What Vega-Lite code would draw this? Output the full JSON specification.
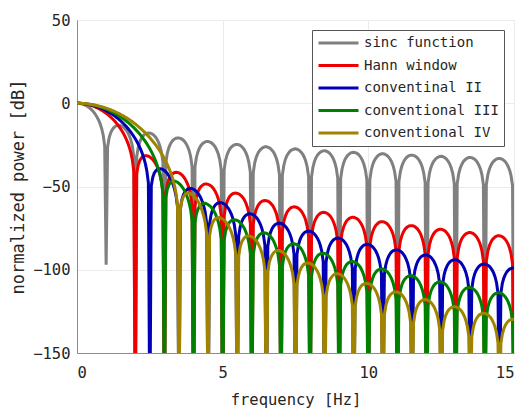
{
"$schema":"https://vega.github.io/schema/vega-lite/v6.json",
"width":437,"height":333,
"autosize":{"type":"none"},
"padding":{"left":77,"top":20,"right":9,"bottom":55},
"background":"white",
"config":{
"view":{"stroke":"#e6e6e6","strokeWidth":1},
"font":"DejaVu Sans Mono",
"axis":{"labelFont":"DejaVu Sans Mono","titleFont":"DejaVu Sans Mono","labelFontSize":15.5,"titleFontSize":15.5,"titleFontWeight":"normal","labelColor":"#262626","titleColor":"#262626","domainColor":"#8c8c8c","gridColor":"#ebebeb","ticks":false,"tickSize":0,"grid":true}
},
"data":{"values":[
{"f":0,"a":0,"b":0,"c":0,"d":0,"e":0},
{"f":0.05,"a":-0.04,"b":-0.01,"c":-0.01,"d":-0.01,"e":-0.01},
{"f":0.1,"a":-0.14,"b":-0.06,"c":-0.04,"d":-0.03,"e":-0.03},
{"f":0.15,"a":-0.32,"b":-0.13,"c":-0.1,"d":-0.08,"e":-0.07},
{"f":0.2,"a":-0.58,"b":-0.23,"c":-0.17,"d":-0.14,"e":-0.12},
{"f":0.25,"a":-0.91,"b":-0.35,"c":-0.27,"d":-0.22,"e":-0.18},
{"f":0.3,"a":-1.33,"b":-0.51,"c":-0.39,"d":-0.31,"e":-0.26},
{"f":0.35,"a":-1.83,"b":-0.69,"c":-0.52,"d":-0.42,"e":-0.35},
{"f":0.4,"a":-2.42,"b":-0.91,"c":-0.69,"d":-0.55,"e":-0.46},
{"f":0.45,"a":-3.12,"b":-1.15,"c":-0.87,"d":-0.7,"e":-0.58},
{"f":0.5,"a":-3.92,"b":-1.42,"c":-1.08,"d":-0.86,"e":-0.72},
{"f":0.55,"a":-4.86,"b":-1.73,"c":-1.3,"d":-1.05,"e":-0.87},
{"f":0.6,"a":-5.94,"b":-2.07,"c":-1.56,"d":-1.25,"e":-1.04},
{"f":0.65,"a":-7.2,"b":-2.43,"c":-1.83,"d":-1.47,"e":-1.22},
{"f":0.7,"a":-8.69,"b":-2.84,"c":-2.13,"d":-1.7,"e":-1.42},
{"f":0.75,"a":-10.46,"b":-3.28,"c":-2.45,"d":-1.96,"e":-1.63},
{"f":0.8,"a":-12.62,"b":-3.75,"c":-2.8,"d":-2.23,"e":-1.86},
{"f":0.85,"a":-15.39,"b":-4.26,"c":-3.17,"d":-2.53,"e":-2.1},
{"f":0.9,"a":-19.23,"b":-4.8,"c":-3.57,"d":-2.84,"e":-2.36},
{"f":0.95,"a":-25.61,"b":-5.39,"c":-3.99,"d":-3.17,"e":-2.63},
{"f":1,"a":-97,"b":-6.02,"c":-4.44,"d":-3.52,"e":-2.92},
{"f":1.05,"a":-26.48,"b":-6.7,"c":-4.92,"d":-3.89,"e":-3.23},
{"f":1.1,"a":-20.97,"b":-7.42,"c":-5.42,"d":-4.29,"e":-3.55},
{"f":1.15,"a":-18.02,"b":-8.19,"c":-5.96,"d":-4.7,"e":-3.89},
{"f":1.2,"a":-16.15,"b":-9.01,"c":-6.52,"d":-5.14,"e":-4.24},
{"f":1.25,"a":-14.89,"b":-9.89,"c":-7.12,"d":-5.59,"e":-4.62},
{"f":1.3,"a":-14.06,"b":-10.84,"c":-7.74,"d":-6.07,"e":-5.01},
{"f":1.35,"a":-13.55,"b":-11.86,"c":-8.41,"d":-6.57,"e":-5.41},
{"f":1.4,"a":-13.31,"b":-12.95,"c":-9.11,"d":-7.1,"e":-5.84},
{"f":1.45,"a":-13.28,"b":-14.13,"c":-9.84,"d":-7.65,"e":-6.28},
{"f":1.5,"a":-13.47,"b":-15.4,"c":-10.62,"d":-8.22,"e":-6.74},
{"f":1.55,"a":-13.86,"b":-16.8,"c":-11.44,"d":-8.82,"e":-7.22},
{"f":1.6,"a":-14.47,"b":-18.32,"c":-12.3,"d":-9.45,"e":-7.72},
{"f":1.65,"a":-15.29,"b":-20.02,"c":-13.21,"d":-10.1,"e":-8.24},
{"f":1.7,"a":-16.39,"b":-21.92,"c":-14.17,"d":-10.79,"e":-8.78},
{"f":1.75,"a":-17.81,"b":-24.1,"c":-15.19,"d":-11.5,"e":-9.34},
{"f":1.8,"a":-19.67,"b":-26.67,"c":-16.27,"d":-12.24,"e":-9.92},
{"f":1.85,"a":-22.15,"b":-29.83,"c":-17.41,"d":-13.02,"e":-10.52},
{"f":1.9,"a":-25.72,"b":-34.05,"c":-18.63,"d":-13.83,"e":-11.15},
{"f":1.95,"a":-31.85,"b":-40.81,"c":-19.94,"d":-14.68,"e":-11.79},
{"f":2,"a":-200,"b":-200,"c":-21.34,"d":-15.56,"e":-12.46},
{"f":2.05,"a":-32.29,"b":-42.4,"c":-22.86,"d":-16.49,"e":-13.16},
{"f":2.1,"a":-26.59,"b":-37.24,"c":-24.5,"d":-17.46,"e":-13.88},
{"f":2.15,"a":-23.45,"b":-34.63,"c":-26.32,"d":-18.48,"e":-14.63},
{"f":2.2,"a":-21.41,"b":-33.1,"c":-28.34,"d":-19.54,"e":-15.41},
{"f":2.25,"a":-20,"b":-32.17,"c":-30.64,"d":-20.66,"e":-16.21},
{"f":2.3,"a":-19.02,"b":-31.67,"c":-33.32,"d":-21.84,"e":-17.05},
{"f":2.35,"a":-18.36,"b":-31.47,"c":-36.59,"d":-23.08,"e":-17.91},
{"f":2.4,"a":-17.99,"b":-31.54,"c":-40.93,"d":-24.41,"e":-18.81},
{"f":2.45,"a":-17.84,"b":-31.82,"c":-47.8,"d":-25.81,"e":-19.75},
{"f":2.5,"a":-17.9,"b":-32.31,"c":-200,"d":-27.31,"e":-20.72},
{"f":2.55,"a":-18.18,"b":-33,"c":-49.6,"d":-28.92,"e":-21.73},
{"f":2.6,"a":-18.68,"b":-33.89,"c":-44.55,"d":-30.67,"e":-22.79},
{"f":2.65,"a":-19.41,"b":-35,"c":-42.05,"d":-32.57,"e":-23.89},
{"f":2.7,"a":-20.41,"b":-36.38,"c":-40.62,"d":-34.69,"e":-25.04},
{"f":2.75,"a":-21.74,"b":-38.08,"c":-39.8,"d":-37.08,"e":-26.24},
{"f":2.8,"a":-23.51,"b":-40.21,"c":-39.39,"d":-39.85,"e":-27.5},
{"f":2.85,"a":-25.9,"b":-42.95,"c":-39.3,"d":-43.21,"e":-28.83},
{"f":2.9,"a":-29.39,"b":-46.79,"c":-39.46,"d":-47.64,"e":-30.24},
{"f":2.95,"a":-35.45,"b":-53.18,"c":-39.84,"d":-54.59,"e":-31.72},
{"f":3,"a":-200,"b":-200,"c":-40.42,"d":-200,"e":-33.29},
{"f":3.05,"a":-35.74,"b":-54.12,"c":-41.21,"d":-56.57,"e":-34.99},
{"f":3.1,"a":-29.97,"b":-48.67,"c":-42.2,"d":-51.61,"e":-36.81},
{"f":3.15,"a":-26.77,"b":-45.78,"c":-43.41,"d":-49.19,"e":-38.79},
{"f":3.2,"a":-24.67,"b":-43.98,"c":-44.88,"d":-47.84,"e":-40.98},
{"f":3.25,"a":-23.19,"b":-42.8,"c":-46.67,"d":-47.1,"e":-43.45},
{"f":3.3,"a":-22.15,"b":-42.06,"c":-48.89,"d":-46.78,"e":-46.3},
{"f":3.35,"a":-21.44,"b":-41.63,"c":-51.72,"d":-46.77,"e":-49.74},
{"f":3.4,"a":-21.01,"b":-41.49,"c":-55.65,"d":-47.02,"e":-54.23},
{"f":3.45,"a":-20.81,"b":-41.56,"c":-62.13,"d":-47.47,"e":-61.26},
{"f":3.5,"a":-20.82,"b":-41.85,"c":-200,"d":-48.14,"e":-200},
{"f":3.55,"a":-21.06,"b":-42.35,"c":-63.24,"d":-49,"e":-63.39},
{"f":3.6,"a":-21.51,"b":-43.06,"c":-57.88,"d":-50.07,"e":-58.49},
{"f":3.65,"a":-22.19,"b":-44,"c":-55.07,"d":-51.35,"e":-56.15},
{"f":3.7,"a":-23.15,"b":-45.22,"c":-53.35,"d":-52.9,"e":-54.87},
{"f":3.75,"a":-24.43,"b":-46.76,"c":-52.26,"d":-54.77,"e":-54.2},
{"f":3.8,"a":-26.16,"b":-48.73,"c":-51.6,"d":-57.06,"e":-53.95},
{"f":3.85,"a":-28.51,"b":-51.32,"c":-51.26,"d":-59.97,"e":-54},
{"f":3.9,"a":-31.96,"b":-55.02,"c":-51.19,"d":-63.97,"e":-54.32},
{"f":3.95,"a":-37.99,"b":-61.27,"c":-51.34,"d":-70.52,"e":-54.84},
{"f":4,"a":-200,"b":-200,"c":-51.71,"d":-200,"e":-55.57},
{"f":4.05,"a":-38.2,"b":-61.9,"c":-52.3,"d":-71.7,"e":-56.4},
{"f":4.1,"a":-32.4,"b":-56.3,"c":-53,"d":-66.4,"e":-57.5},
{"f":4.15,"a":-29.2,"b":-53.3,"c":-54,"d":-63.7,"e":-58.8},
{"f":4.2,"a":-27,"b":-51.4,"c":-55.3,"d":-62,"e":-60.4},
{"f":4.25,"a":-25.5,"b":-50.1,"c":-56.9,"d":-61,"e":-62.4},
{"f":4.3,"a":-24.4,"b":-49.3,"c":-59,"d":-60.4,"e":-64.7},
{"f":4.35,"a":-23.7,"b":-48.7,"c":-61.7,"d":-60.1,"e":-67.7},
{"f":4.4,"a":-23.2,"b":-48.5,"c":-65.4,"d":-60.1,"e":-71.8},
{"f":4.45,"a":-23,"b":-48.5,"c":-71.8,"d":-60.4,"e":-78.5},
{"f":4.5,"a":-23,"b":-48.7,"c":-200,"d":-60.9,"e":-200},
{"f":4.55,"a":-23.2,"b":-49.1,"c":-72.6,"d":-61.5,"e":-79.9},
{"f":4.6,"a":-23.6,"b":-49.7,"c":-67.1,"d":-62.3,"e":-74.6},
{"f":4.65,"a":-24.3,"b":-50.5,"c":-64.1,"d":-63.4,"e":-71.9},
{"f":4.7,"a":-25.2,"b":-51.7,"c":-62.3,"d":-64.7,"e":-70.3},
{"f":4.75,"a":-26.5,"b":-53.1,"c":-61.1,"d":-66.4,"e":-69.3},
{"f":4.8,"a":-28.2,"b":-55,"c":-60.3,"d":-68.5,"e":-68.8},
{"f":4.85,"a":-30.5,"b":-57.5,"c":-59.8,"d":-71.3,"e":-68.6},
{"f":4.9,"a":-33.9,"b":-61.2,"c":-59.7,"d":-75.1,"e":-68.7},
{"f":4.95,"a":-39.9,"b":-67.4,"c":-59.7,"d":-81.5,"e":-69},
{"f":5,"a":-200,"b":-200,"c":-60,"d":-200,"e":-69.6},
{"f":5.05,"a":-40.1,"b":-67.9,"c":-60.5,"d":-82.5,"e":-70.2},
{"f":5.1,"a":-34.3,"b":-62.2,"c":-61.1,"d":-77,"e":-71.1},
{"f":5.15,"a":-31,"b":-59.2,"c":-62.1,"d":-74.1,"e":-72.2},
{"f":5.2,"a":-28.9,"b":-57.2,"c":-63.2,"d":-72.3,"e":-73.6},
{"f":5.25,"a":-27.3,"b":-55.8,"c":-64.8,"d":-71.2,"e":-75.4},
{"f":5.3,"a":-26.3,"b":-54.9,"c":-66.7,"d":-70.5,"e":-77.5},
{"f":5.35,"a":-25.5,"b":-54.3,"c":-69.3,"d":-70.1,"e":-80.3},
{"f":5.4,"a":-25,"b":-54,"c":-73,"d":-70,"e":-84.2},
{"f":5.45,"a":-24.8,"b":-53.9,"c":-79.2,"d":-70.1,"e":-90.7},
{"f":5.5,"a":-24.8,"b":-54.1,"c":-200,"d":-70.4,"e":-200},
{"f":5.55,"a":-24.9,"b":-54.4,"c":-79.9,"d":-70.9,"e":-91.8},
{"f":5.6,"a":-25.3,"b":-55,"c":-74.3,"d":-71.7,"e":-86.4},
{"f":5.65,"a":-26,"b":-55.8,"c":-71.3,"d":-72.6,"e":-83.5},
{"f":5.7,"a":-26.9,"b":-56.8,"c":-69.4,"d":-73.9,"e":-81.8},
{"f":5.75,"a":-28.1,"b":-58.2,"c":-68.1,"d":-75.4,"e":-80.7},
{"f":5.8,"a":-29.8,"b":-60.1,"c":-67.2,"d":-77.5,"e":-80},
{"f":5.85,"a":-32.1,"b":-62.6,"c":-66.7,"d":-80.1,"e":-79.7},
{"f":5.9,"a":-35.6,"b":-66.1,"c":-66.4,"d":-83.8,"e":-79.6},
{"f":5.95,"a":-41.5,"b":-72.3,"c":-66.4,"d":-90.2,"e":-79.8},
{"f":6,"a":-200,"b":-200,"c":-66.6,"d":-200,"e":-80.2},
{"f":6.05,"a":-41.7,"b":-72.7,"c":-67,"d":-90.9,"e":-80.7},
{"f":6.1,"a":-35.8,"b":-67,"c":-67.6,"d":-85.4,"e":-81.5},
{"f":6.15,"a":-32.6,"b":-63.9,"c":-68.5,"d":-82.4,"e":-82.5},
{"f":6.2,"a":-30.4,"b":-61.9,"c":-69.6,"d":-80.5,"e":-83.8},
{"f":6.25,"a":-28.9,"b":-60.5,"c":-71.1,"d":-79.3,"e":-85.5},
{"f":6.3,"a":-27.8,"b":-59.5,"c":-73,"d":-78.5,"e":-87.5},
{"f":6.35,"a":-27,"b":-58.9,"c":-75.5,"d":-78,"e":-90.2},
{"f":6.4,"a":-26.5,"b":-58.5,"c":-79.1,"d":-77.8,"e":-94},
{"f":6.45,"a":-26.2,"b":-58.4,"c":-85.3,"d":-77.9,"e":-100.4},
{"f":6.5,"a":-26.2,"b":-58.5,"c":-200,"d":-78.1,"e":-200},
{"f":6.55,"a":-26.4,"b":-58.8,"c":-85.9,"d":-78.6,"e":-101.2},
{"f":6.6,"a":-26.8,"b":-59.3,"c":-80.2,"d":-79.2,"e":-95.7},
{"f":6.65,"a":-27.4,"b":-60.1,"c":-77.2,"d":-80.1,"e":-92.8},
{"f":6.7,"a":-28.3,"b":-61.1,"c":-75.2,"d":-81.3,"e":-91},
{"f":6.75,"a":-29.5,"b":-62.5,"c":-73.8,"d":-82.8,"e":-89.8},
{"f":6.8,"a":-31.2,"b":-64.3,"c":-72.9,"d":-84.8,"e":-89},
{"f":6.85,"a":-33.5,"b":-66.7,"c":-72.4,"d":-87.3,"e":-88.6},
{"f":6.9,"a":-36.9,"b":-70.3,"c":-72.1,"d":-91,"e":-88.5},
{"f":6.95,"a":-42.9,"b":-76.4,"c":-72,"d":-97.3,"e":-88.5},
{"f":7,"a":-200,"b":-200,"c":-72.2,"d":-200,"e":-88.9},
{"f":7.05,"a":-43,"b":-76.8,"c":-72.5,"d":-97.9,"e":-89.3},
{"f":7.1,"a":-37.2,"b":-71,"c":-73.1,"d":-92.3,"e":-90.1},
{"f":7.15,"a":-33.9,"b":-67.9,"c":-73.9,"d":-89.3,"e":-91},
{"f":7.2,"a":-31.7,"b":-65.8,"c":-75,"d":-87.4,"e":-92.2},
{"f":7.25,"a":-30.2,"b":-64.4,"c":-76.4,"d":-86.1,"e":-93.8},
{"f":7.3,"a":-29,"b":-63.4,"c":-78.2,"d":-85.2,"e":-95.8},
{"f":7.35,"a":-28.3,"b":-62.7,"c":-80.7,"d":-84.7,"e":-98.4},
{"f":7.4,"a":-27.8,"b":-62.4,"c":-84.3,"d":-84.4,"e":-102.1},
{"f":7.45,"a":-27.5,"b":-62.2,"c":-90.5,"d":-84.4,"e":-108.4},
{"f":7.5,"a":-27.4,"b":-62.3,"c":-200,"d":-84.6,"e":-200},
{"f":7.55,"a":-27.6,"b":-62.6,"c":-90.9,"d":-85,"e":-109.1},
{"f":7.6,"a":-28,"b":-63.1,"c":-85.3,"d":-85.6,"e":-103.6},
{"f":7.65,"a":-28.6,"b":-63.8,"c":-82.2,"d":-86.5,"e":-100.6},
{"f":7.7,"a":-29.5,"b":-64.8,"c":-80.1,"d":-87.6,"e":-98.7},
{"f":7.75,"a":-30.7,"b":-66.2,"c":-78.8,"d":-89.1,"e":-97.5},
{"f":7.8,"a":-32.4,"b":-67.9,"c":-77.8,"d":-91,"e":-96.6},
{"f":7.85,"a":-34.7,"b":-70.3,"c":-77.2,"d":-93.5,"e":-96.2},
{"f":7.9,"a":-38.1,"b":-73.9,"c":-76.9,"d":-97.1,"e":-95.9},
{"f":7.95,"a":-44.1,"b":-79.9,"c":-76.8,"d":-103.3,"e":-96},
{"f":8,"a":-200,"b":-200,"c":-76.9,"d":-200,"e":-96.2},
{"f":8.05,"a":-44.2,"b":-80.3,"c":-77.2,"d":-103.9,"e":-96.7},
{"f":8.1,"a":-38.3,"b":-74.5,"c":-77.8,"d":-98.3,"e":-97.3},
{"f":8.15,"a":-35,"b":-71.3,"c":-78.5,"d":-95.2,"e":-98.2},
{"f":8.2,"a":-32.8,"b":-69.3,"c":-79.6,"d":-93.2,"e":-99.4},
{"f":8.25,"a":-31.3,"b":-67.8,"c":-81,"d":-91.9,"e":-100.9},
{"f":8.3,"a":-30.2,"b":-66.8,"c":-82.8,"d":-91,"e":-102.8},
{"f":8.35,"a":-29.4,"b":-66.1,"c":-85.3,"d":-90.4,"e":-105.4},
{"f":8.4,"a":-28.9,"b":-65.7,"c":-88.8,"d":-90.1,"e":-109.1},
{"f":8.45,"a":-28.6,"b":-65.5,"c":-94.9,"d":-90.1,"e":-115.3},
{"f":8.5,"a":-28.5,"b":-65.6,"c":-200,"d":-90.2,"e":-200},
{"f":8.55,"a":-28.7,"b":-65.8,"c":-95.4,"d":-90.6,"e":-115.9},
{"f":8.6,"a":-29.1,"b":-66.3,"c":-89.7,"d":-91.2,"e":-110.3},
{"f":8.65,"a":-29.7,"b":-67,"c":-86.5,"d":-92,"e":-107.3},
{"f":8.7,"a":-30.6,"b":-68,"c":-84.5,"d":-93.1,"e":-105.4},
{"f":8.75,"a":-31.8,"b":-69.3,"c":-83.1,"d":-94.5,"e":-104.1},
{"f":8.8,"a":-33.4,"b":-71.1,"c":-82.1,"d":-96.4,"e":-103.2},
{"f":8.85,"a":-35.7,"b":-73.5,"c":-81.5,"d":-98.9,"e":-102.7},
{"f":8.9,"a":-39.1,"b":-77,"c":-81.1,"d":-102.5,"e":-102.4},
{"f":8.95,"a":-45.1,"b":-83.1,"c":-81,"d":-108.6,"e":-102.4},
{"f":9,"a":-200,"b":-200,"c":-81.1,"d":-200,"e":-102.6},
{"f":9.05,"a":-45.2,"b":-83.3,"c":-81.4,"d":-109.1,"e":-103},
{"f":9.1,"a":-39.3,"b":-77.6,"c":-81.9,"d":-103.5,"e":-103.6},
{"f":9.15,"a":-36,"b":-74.4,"c":-82.6,"d":-100.4,"e":-104.5},
{"f":9.2,"a":-33.8,"b":-72.3,"c":-83.7,"d":-98.4,"e":-105.6},
{"f":9.25,"a":-32.3,"b":-70.8,"c":-85,"d":-97,"e":-107.1},
{"f":9.3,"a":-31.1,"b":-69.8,"c":-86.8,"d":-96.1,"e":-109},
{"f":9.35,"a":-30.4,"b":-69.1,"c":-89.3,"d":-95.5,"e":-111.5},
{"f":9.4,"a":-29.8,"b":-68.7,"c":-92.8,"d":-95.1,"e":-115.2},
{"f":9.45,"a":-29.6,"b":-68.5,"c":-98.9,"d":-95.1,"e":-121.4},
{"f":9.5,"a":-29.5,"b":-68.5,"c":-200,"d":-95.2,"e":-200},
{"f":9.55,"a":-29.7,"b":-68.8,"c":-99.3,"d":-95.5,"e":-121.9},
{"f":9.6,"a":-30,"b":-69.2,"c":-93.5,"d":-96.1,"e":-116.3},
{"f":9.65,"a":-30.6,"b":-69.9,"c":-90.4,"d":-96.9,"e":-113.2},
{"f":9.7,"a":-31.5,"b":-70.9,"c":-88.3,"d":-97.9,"e":-111.3},
{"f":9.75,"a":-32.7,"b":-72.2,"c":-86.9,"d":-99.3,"e":-109.9},
{"f":9.8,"a":-34.4,"b":-73.9,"c":-85.9,"d":-101.2,"e":-109},
{"f":9.85,"a":-36.7,"b":-76.3,"c":-85.2,"d":-103.6,"e":-108.5},
{"f":9.9,"a":-40.1,"b":-79.8,"c":-84.9,"d":-107.2,"e":-108.2},
{"f":9.95,"a":-46,"b":-85.8,"c":-84.7,"d":-113.3,"e":-108.1},
{"f":10,"a":-200,"b":-200,"c":-84.8,"d":-200,"e":-108.3},
{"f":10.05,"a":-46.1,"b":-86.1,"c":-85.1,"d":-113.8,"e":-108.7},
{"f":10.1,"a":-40.2,"b":-80.3,"c":-85.6,"d":-108.1,"e":-109.3},
{"f":10.15,"a":-36.9,"b":-77.1,"c":-86.3,"d":-105,"e":-110.1},
{"f":10.2,"a":-34.7,"b":-75,"c":-87.3,"d":-102.9,"e":-111.2},
{"f":10.25,"a":-33.2,"b":-73.5,"c":-88.6,"d":-101.6,"e":-112.6},
{"f":10.3,"a":-32,"b":-72.5,"c":-90.4,"d":-100.6,"e":-114.5},
{"f":10.35,"a":-31.2,"b":-71.8,"c":-92.8,"d":-100,"e":-117},
{"f":10.4,"a":-30.7,"b":-71.3,"c":-96.4,"d":-99.6,"e":-120.6},
{"f":10.45,"a":-30.4,"b":-71.1,"c":-102.4,"d":-99.5,"e":-126.8},
{"f":10.5,"a":-30.4,"b":-71.1,"c":-200,"d":-99.6,"e":-200},
{"f":10.55,"a":-30.5,"b":-71.4,"c":-102.8,"d":-99.9,"e":-127.3},
{"f":10.6,"a":-30.9,"b":-71.8,"c":-97,"d":-100.5,"e":-121.6},
{"f":10.65,"a":-31.5,"b":-72.5,"c":-93.8,"d":-101.2,"e":-118.5},
{"f":10.7,"a":-32.4,"b":-73.5,"c":-91.8,"d":-102.3,"e":-116.5},
{"f":10.75,"a":-33.6,"b":-74.8,"c":-90.3,"d":-103.7,"e":-115.2},
{"f":10.8,"a":-35.2,"b":-76.5,"c":-89.3,"d":-105.5,"e":-114.3},
{"f":10.85,"a":-37.5,"b":-78.8,"c":-88.6,"d":-107.9,"e":-113.7},
{"f":10.9,"a":-40.9,"b":-82.3,"c":-88.2,"d":-111.5,"e":-113.3},
{"f":10.95,"a":-46.8,"b":-88.3,"c":-88.1,"d":-117.6,"e":-113.3},
{"f":11,"a":-200,"b":-200,"c":-88.1,"d":-200,"e":-113.4},
{"f":11.05,"a":-46.9,"b":-88.6,"c":-88.4,"d":-118,"e":-113.8},
{"f":11.1,"a":-41,"b":-82.8,"c":-88.9,"d":-112.3,"e":-114.3},
{"f":11.15,"a":-37.7,"b":-79.6,"c":-89.6,"d":-109.1,"e":-115.1},
{"f":11.2,"a":-35.5,"b":-77.4,"c":-90.6,"d":-107.1,"e":-116.2},
{"f":11.25,"a":-34,"b":-75.9,"c":-91.9,"d":-105.7,"e":-117.6},
{"f":11.3,"a":-32.8,"b":-74.9,"c":-93.7,"d":-104.7,"e":-119.4},
{"f":11.35,"a":-32,"b":-74.2,"c":-96.1,"d":-104.1,"e":-121.9},
{"f":11.4,"a":-31.5,"b":-73.7,"c":-99.6,"d":-103.7,"e":-125.5},
{"f":11.45,"a":-31.2,"b":-73.5,"c":-105.6,"d":-103.6,"e":-131.7},
{"f":11.5,"a":-31.2,"b":-73.5,"c":-200,"d":-103.6,"e":-200},
{"f":11.55,"a":-31.3,"b":-73.7,"c":-105.9,"d":-103.9,"e":-132.1},
{"f":11.6,"a":-31.7,"b":-74.2,"c":-100.2,"d":-104.5,"e":-126.4},
{"f":11.65,"a":-32.3,"b":-74.9,"c":-97,"d":-105.2,"e":-123.3},
{"f":11.7,"a":-33.1,"b":-75.8,"c":-94.9,"d":-106.2,"e":-121.3},
{"f":11.75,"a":-34.4,"b":-77.1,"c":-93.4,"d":-107.6,"e":-119.9},
{"f":11.8,"a":-36,"b":-78.8,"c":-92.4,"d":-109.4,"e":-119},
{"f":11.85,"a":-38.3,"b":-81.2,"c":-91.7,"d":-111.8,"e":-118.4},
{"f":11.9,"a":-41.7,"b":-84.6,"c":-91.3,"d":-115.3,"e":-118},
{"f":11.95,"a":-47.6,"b":-90.6,"c":-91.1,"d":-121.4,"e":-117.9},
{"f":12,"a":-200,"b":-200,"c":-91.2,"d":-200,"e":-118},
{"f":12.05,"a":-47.7,"b":-90.9,"c":-91.4,"d":-121.8,"e":-118.4},
{"f":12.1,"a":-41.8,"b":-85,"c":-91.9,"d":-116.1,"e":-118.9},
{"f":12.15,"a":-38.5,"b":-81.8,"c":-92.6,"d":-112.9,"e":-119.7},
{"f":12.2,"a":-36.3,"b":-79.7,"c":-93.6,"d":-110.9,"e":-120.8},
{"f":12.25,"a":-34.7,"b":-78.2,"c":-94.9,"d":-109.4,"e":-122.1},
{"f":12.3,"a":-33.6,"b":-77.1,"c":-96.7,"d":-108.4,"e":-124},
{"f":12.35,"a":-32.8,"b":-76.4,"c":-99,"d":-107.8,"e":-126.4},
{"f":12.4,"a":-32.3,"b":-75.9,"c":-102.5,"d":-107.4,"e":-130},
{"f":12.45,"a":-32,"b":-75.7,"c":-108.6,"d":-107.2,"e":-136.1},
{"f":12.5,"a":-31.9,"b":-75.7,"c":-200,"d":-107.3,"e":-200},
{"f":12.55,"a":-32,"b":-75.9,"c":-108.9,"d":-107.6,"e":-136.5},
{"f":12.6,"a":-32.4,"b":-76.3,"c":-103.1,"d":-108.1,"e":-130.8},
{"f":12.65,"a":-33,"b":-77,"c":-99.9,"d":-108.8,"e":-127.7},
{"f":12.7,"a":-33.9,"b":-78,"c":-97.8,"d":-109.8,"e":-125.7},
{"f":12.75,"a":-35.1,"b":-79.2,"c":-96.3,"d":-111.2,"e":-124.3},
{"f":12.8,"a":-36.7,"b":-80.9,"c":-95.3,"d":-113,"e":-123.3},
{"f":12.85,"a":-39,"b":-83.3,"c":-94.6,"d":-115.4,"e":-122.7},
{"f":12.9,"a":-42.4,"b":-86.7,"c":-94.2,"d":-118.9,"e":-122.3},
{"f":12.95,"a":-48.3,"b":-92.7,"c":-94,"d":-125,"e":-122.2},
{"f":13,"a":-200,"b":-200,"c":-94,"d":-200,"e":-122.3},
{"f":13.05,"a":-48.4,"b":-92.9,"c":-94.2,"d":-125.3,"e":-122.6},
{"f":13.1,"a":-42.5,"b":-87.1,"c":-94.7,"d":-119.6,"e":-123.1},
{"f":13.15,"a":-39.2,"b":-83.9,"c":-95.4,"d":-116.4,"e":-123.9},
{"f":13.2,"a":-37,"b":-81.7,"c":-96.4,"d":-114.3,"e":-124.9},
{"f":13.25,"a":-35.4,"b":-80.2,"c":-97.7,"d":-112.9,"e":-126.3},
{"f":13.3,"a":-34.3,"b":-79.2,"c":-99.4,"d":-111.9,"e":-128.1},
{"f":13.35,"a":-33.5,"b":-78.4,"c":-101.8,"d":-111.2,"e":-130.6},
{"f":13.4,"a":-32.9,"b":-78,"c":-105.2,"d":-110.8,"e":-134.1},
{"f":13.45,"a":-32.6,"b":-77.7,"c":-111.3,"d":-110.6,"e":-140.2},
{"f":13.5,"a":-32.6,"b":-77.7,"c":-200,"d":-110.7,"e":-200},
{"f":13.55,"a":-32.7,"b":-77.9,"c":-111.5,"d":-111,"e":-140.6},
{"f":13.6,"a":-33.1,"b":-78.3,"c":-105.8,"d":-111.5,"e":-134.9},
{"f":13.65,"a":-33.6,"b":-79,"c":-102.5,"d":-112.2,"e":-131.7},
{"f":13.7,"a":-34.5,"b":-79.9,"c":-100.4,"d":-113.2,"e":-129.7},
{"f":13.75,"a":-35.7,"b":-81.2,"c":-99,"d":-114.5,"e":-128.3},
{"f":13.8,"a":-37.4,"b":-82.9,"c":-97.9,"d":-116.3,"e":-127.3},
{"f":13.85,"a":-39.6,"b":-85.2,"c":-97.2,"d":-118.7,"e":-126.6},
{"f":13.9,"a":-43,"b":-88.7,"c":-96.8,"d":-122.2,"e":-126.3},
{"f":13.95,"a":-48.9,"b":-94.7,"c":-96.6,"d":-128.2,"e":-126.1},
{"f":14,"a":-200,"b":-200,"c":-96.6,"d":-200,"e":-126.2},
{"f":14.05,"a":-49,"b":-94.9,"c":-96.8,"d":-128.6,"e":-126.5},
{"f":14.1,"a":-43.1,"b":-89.1,"c":-97.3,"d":-122.8,"e":-127},
{"f":14.15,"a":-39.8,"b":-85.8,"c":-97.9,"d":-119.6,"e":-127.8},
{"f":14.2,"a":-37.6,"b":-83.7,"c":-98.9,"d":-117.5,"e":-128.8},
{"f":14.25,"a":-36,"b":-82.1,"c":-100.2,"d":-116.1,"e":-130.2},
{"f":14.3,"a":-34.9,"b":-81.1,"c":-101.9,"d":-115.1,"e":-132},
{"f":14.35,"a":-34.1,"b":-80.3,"c":-104.3,"d":-114.4,"e":-134.4},
{"f":14.4,"a":-33.5,"b":-79.8,"c":-107.8,"d":-114,"e":-137.9},
{"f":14.45,"a":-33.2,"b":-79.6,"c":-113.8,"d":-113.8,"e":-144},
{"f":14.5,"a":-33.2,"b":-79.6,"c":-200,"d":-113.8,"e":-200},
{"f":14.55,"a":-33.3,"b":-79.8,"c":-114,"d":-114.1,"e":-144.4},
{"f":14.6,"a":-33.7,"b":-80.2,"c":-108.2,"d":-114.6,"e":-138.6},
{"f":14.65,"a":-34.3,"b":-80.9,"c":-105,"d":-115.3,"e":-135.5},
{"f":14.7,"a":-35.1,"b":-81.8,"c":-102.9,"d":-116.3,"e":-133.4},
{"f":14.75,"a":-36.3,"b":-83,"c":-101.4,"d":-117.6,"e":-132},
{"f":14.8,"a":-38,"b":-84.7,"c":-100.4,"d":-119.3,"e":-131},
{"f":14.85,"a":-40.2,"b":-87.1,"c":-99.6,"d":-121.7,"e":-130.3},
{"f":14.9,"a":-43.6,"b":-90.5,"c":-99.2,"d":-125.2,"e":-130},
{"f":14.95,"a":-49.5,"b":-96.5,"c":-99,"d":-131.3,"e":-129.8},
{"f":15,"a":-200,"b":-200,"c":-99,"d":-200,"e":-129.9}
]},
"encoding":{
"x":{"field":"f","type":"quantitative","title":"frequency [Hz]","scale":{"domain":[0,15],"nice":false},"axis":{"values":[0,5,10,15],"labelPadding":12,"titlePadding":12}}
},
"layer":[
{"mark":{"type":"line","strokeWidth":3,"clip":true},"encoding":{
"y":{"field":"a","type":"quantitative","title":"normalized power [dB]","scale":{"domain":[-150,50],"nice":false},"axis":{"values":[-150,-100,-50,0,50],"labelPadding":7,"titlePadding":5,"titleFontSize":17}},
"color":{"datum":"sinc function","type":"nominal","scale":{"domain":["sinc function","Hann window","conventinal II","conventional III","conventional IV"],"range":["#808080","#ee0000","#0000b4","#008000","#a08400"]},
"legend":{"title":null,"orient":"top-right","offset":10,"fillColor":"white","strokeColor":"#555555","padding":5,"symbolType":"stroke","symbolSize":1600,"symbolStrokeWidth":3,"labelFont":"DejaVu Sans Mono","labelFontSize":14,"labelColor":"#262626","clipHeight":16,"rowPadding":6.5,"labelOffset":4}}}},
{"mark":{"type":"line","strokeWidth":3,"clip":true},"encoding":{"y":{"field":"b","type":"quantitative","title":"normalized power [dB]"},"color":{"datum":"Hann window","type":"nominal"}}},
{"mark":{"type":"line","strokeWidth":3,"clip":true},"encoding":{"y":{"field":"c","type":"quantitative","title":"normalized power [dB]"},"color":{"datum":"conventinal II","type":"nominal"}}},
{"mark":{"type":"line","strokeWidth":3,"clip":true},"encoding":{"y":{"field":"d","type":"quantitative","title":"normalized power [dB]"},"color":{"datum":"conventional III","type":"nominal"}}},
{"mark":{"type":"line","strokeWidth":3,"clip":true},"encoding":{"y":{"field":"e","type":"quantitative","title":"normalized power [dB]"},"color":{"datum":"conventional IV","type":"nominal"}}}
]
}
